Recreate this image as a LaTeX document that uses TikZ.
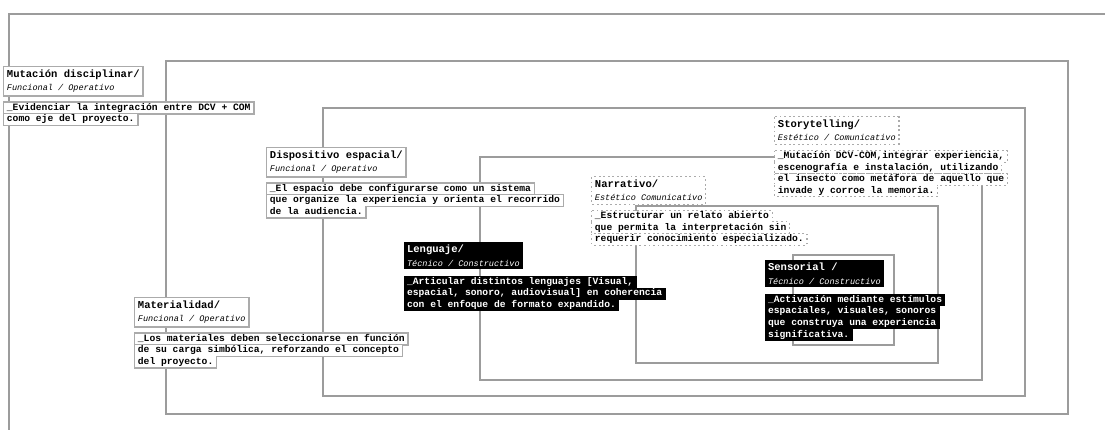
\documentclass[tikz,border=0pt]{standalone}
\usepackage{fontspec}
\setmonofont{Liberation Mono}
\usetikzlibrary{positioning,backgrounds}
\definecolor{linea}{HTML}{9C9C9C}
\definecolor{borde}{HTML}{ABABAB}
\definecolor{subgris}{HTML}{444444}

\newcommand{\encab}[2]{{\fontsize{7.9}{10}\selectfont\bfseries #1}\\{\fontsize{6.4}{8}\selectfont\itshape #2}}

\tikzset{
    marco/.style={linea, line width=0.8pt},
    titulo/.style={anchor=north west, align=left, inner xsep=2pt, inner ysep=2pt,
        font=\ttfamily\fontsize{7.9}{10}\selectfont, fill=white},
    linea desc/.style={font=\ttfamily\bfseries\fontsize{7.25}{8}\selectfont,
        inner xsep=2pt, inner ysep=0pt, text height=5.9pt, text depth=2.3pt, fill=white},
    desc/.style={linea desc, below=5pt of #1, anchor=north west},
    sigue/.style={linea desc, below=0pt of #1, anchor=north west},
    negro/.style={fill=black, draw=black, line width=0.6pt, text=white},
    gris/.style={text=subgris},
}

\begin{document}
\begin{tikzpicture}[x=0.75pt, y=-0.75pt]
    \useasboundingbox (0,0) rectangle (1105,430);

    % marcos anidados
    \begin{pgfonlayer}{background}
        \draw[marco] (1105,14) -- (9,14) -- (9,430);
        \foreach \l/\t/\r/\b in {166/61/1068/414, 323/108/1025/396, 480/157/982/380,
                                 636/206/938/363, 793/255/894/345}
            \draw[marco] (\l,\t) rectangle (\r,\b);
    \end{pgfonlayer}

    % Funcional / Operativo
    \node[titulo] (mutT) at (4,67) {\encab{Mutación disciplinar/}{Funcional / Operativo}};
    \node[desc=mutT.south west] (mut1) {\_Evidenciar la integración entre DCV + COM};
    \node[sigue=mut1.south west] (mut2) {como eje del proyecto.};

    \node[titulo] (dispT) at (267,148) {\encab{Dispositivo espacial/}{Funcional / Operativo}};
    \node[desc=dispT.south west] (disp1) {\_El espacio debe configurarse como un sistema};
    \node[sigue=disp1.south west] (disp2) {que organize la experiencia y orienta el recorrido};
    \node[sigue=disp2.south west] (disp3) {de la audiencia.};

    \node[titulo] (matT) at (135,298) {\encab{Materialidad/}{Funcional / Operativo}};
    \node[desc=matT.south west] (mat1) {\_Los materiales deben seleccionarse en función};
    \node[sigue=mat1.south west] (mat2) {de su carga simbólica, reforzando el concepto};
    \node[sigue=mat2.south west] (mat3) {del proyecto.};

    % Estetico / Comunicativo
    \node[titulo] (narT) at (592,177) {\encab{Narrativo/}{Estético Comunicativo}};
    \node[desc=narT.south west] (nar1) {\_Estructurar un relato abierto};
    \node[sigue=nar1.south west] (nar2) {que permita la interpretación sin};
    \node[sigue=nar2.south west] (nar3) {requerir conocimiento especializado.};

    \node[titulo] (stoT) at (775,117) {\encab{Storytelling/}{Estético / Comunicativo}};
    \node[desc=stoT.south west] (sto1) {\_Mutación DCV-COM,integrar experiencia,};
    \node[sigue=sto1.south west] (sto2) {escenografía e instalación, utilizando};
    \node[sigue=sto2.south west] (sto3) {el insecto como metáfora de aquello que};
    \node[sigue=sto3.south west] (sto4) {invade y corroe la memoria.};

    % Tecnico / Constructivo
    \node[titulo, negro] (lenT) at (404,242) {\encab{Lenguaje/}{Técnico / Constructivo}};
    \node[desc=lenT.south west, negro] (len1) {\_Articular distintos lenguajes [Visual,};
    \node[sigue=len1.south west, negro] (len2) {espacial, sonoro, audiovisual] en coherencia};
    \node[sigue=len2.south west, negro] (len3) {con el enfoque de formato expandido.};

    \node[titulo, negro] (senT) at (765,260) {\encab{Sensorial /}{Técnico / Constructivo}};
    \node[desc=senT.south west, negro] (sen1) {\_Activación mediante estímulos};
    \node[sigue=sen1.south west, negro] (sen2) {espaciales, visuales, sonoros};
    \node[sigue=sen2.south west, negro] (sen3) {que construya una experiencia};
    \node[sigue=sen3.south west, negro] (sen4) {significativa.};

    % bordes de las cajas, debajo del relleno
    \begin{pgfonlayer}{background}
        \foreach \n in {mutT, mut1, mut2, dispT, disp1, disp2, disp3, matT, mat1, mat2, mat3}
            \draw[borde, line width=1.8pt] (\n.north west) rectangle (\n.south east);
        \foreach \n in {narT, nar1, nar2, nar3, stoT, sto1, sto2, sto3, sto4}
            \draw[borde, line width=1.4pt, dotted] (\n.north west) rectangle (\n.south east);
    \end{pgfonlayer}
\end{tikzpicture}
\end{document}
